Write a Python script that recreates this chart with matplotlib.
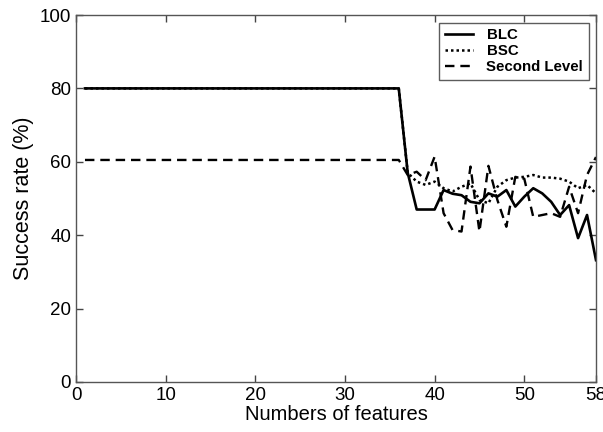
import numpy as np
import matplotlib
matplotlib.use("Agg")
import matplotlib.pyplot as plt

plt.rcParams['font.family'] = ['Liberation Sans', 'DejaVu Sans']

features = list(range(1, 59))

blc_tail = [57, 47, 47, 47, 52.3, 51.3, 50.9, 49.1, 48.7, 51.4, 50.5, 52.3,
            47.8, 50.5, 52.8, 51.4, 49.1, 45.5, 48.2, 39.2, 45.5, 33.2]
bsc_tail = [57, 54.6, 53.7, 54.6, 52.8, 51.9, 53.2, 54.1, 49.6, 48.7, 53.2, 55,
            55.7, 55.9, 56.4, 55.7, 55.7, 55.4, 54.6, 52.8, 53.7, 51.4]
second_tail = [56.4, 57.3, 55, 61.4, 46, 41.4, 41, 58.7, 41, 58.9, 49.6, 42.3,
               55.9, 55.4, 45, 45.5, 46, 45, 53.2, 46, 56.4, 61.3]

blc = [80] * 36 + blc_tail
bsc = [80] * 36 + bsc_tail
second = [60.5] * 36 + second_tail

fig = plt.figure(figsize=(6.03, 4.32), dpi=100)
ax = fig.add_axes([76/603, 1 - 382/432, (596-76)/603, (382-15)/432])

ax.plot(features, blc, color='black', lw=1.9, linestyle='-', label='BLC')
ax.plot(features, bsc, color='black', lw=1.8, linestyle=(0, (1, 1.2)), label='BSC')
ax.plot(features, second, color='black', lw=1.7, linestyle=(0, (4, 2.5)), label='Second Level')

ax.set_xlim(0, 58)
ax.set_ylim(0, 100)
ax.set_xticks([0, 10, 20, 30, 40, 50, 58])
ax.set_yticks([0, 20, 40, 60, 80, 100])
ax.tick_params(direction='in', top=True, right=True, labelsize=13.5, length=5,
               color='#444444', width=1)
for s in ax.spines.values():
    s.set_color('#555555')
    s.set_linewidth(1)

ax.set_xlabel('Numbers of features', fontsize=14.5, labelpad=1)
ax.set_ylabel('Success rate (%)', fontsize=15.5, labelpad=4)

leg = ax.legend(loc='upper right', fontsize=10.8, frameon=True, fancybox=False,
                edgecolor='#333333', handlelength=1.9, borderaxespad=0.5,
                labelspacing=0.15, handletextpad=0.9, borderpad=0.35)
for t in leg.get_texts():
    t.set_fontweight('bold')
leg.get_frame().set_linewidth(1)

fig.savefig('out.png', dpi=100)
